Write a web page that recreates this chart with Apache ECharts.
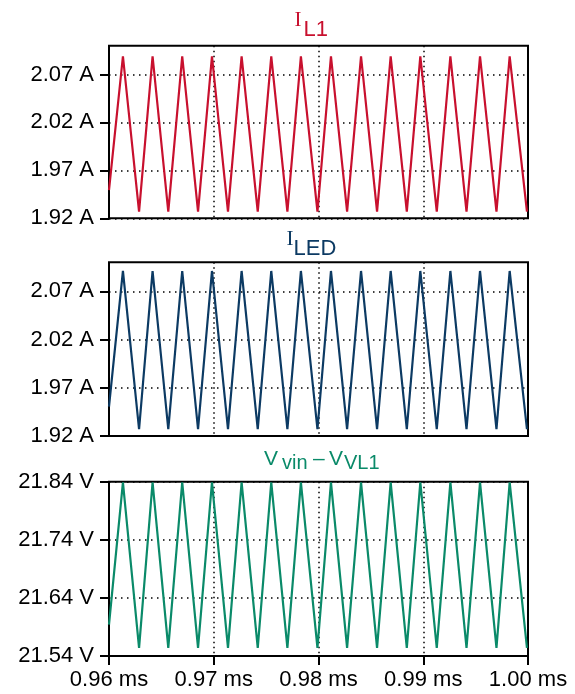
<!DOCTYPE html>
<html>
<head>
<meta charset="utf-8">
<script src="https://cdn.jsdelivr.net/npm/echarts@6/dist/echarts.min.js"></script>
<style>
html,body{margin:0;padding:0;background:#fff;}
#chart{width:575px;height:694px;}
</style>
</head>
<body>
<div id="chart"></div>
<script>
// ---- data ----
const timeMs = [0.96, 0.96133, 0.96287, 0.96416, 0.96566, 0.96699, 0.96850, 0.96983, 0.97136,
  0.97266, 0.97420, 0.97549, 0.97703, 0.97832, 0.97990, 0.98119, 0.98273, 0.98406, 0.98559,
  0.98689, 0.98843, 0.98972, 0.99129, 0.99259, 0.99413, 0.99542, 0.99699, 0.99825, 0.9999];

const iL1 = [1.9495, 2.089, 1.927, 2.089, 1.927, 2.089, 1.927, 2.089, 1.927,
  2.089, 1.927, 2.089, 1.927, 2.089, 1.927, 2.089, 1.927, 2.089, 1.927,
  2.089, 1.927, 2.089, 1.927, 2.089, 1.927, 2.089, 1.927, 2.089, 1.927];

const iLED = [1.9505, 2.091, 1.927, 2.091, 1.927, 2.091, 1.927, 2.091, 1.927,
  2.091, 1.927, 2.091, 1.927, 2.091, 1.927, 2.091, 1.927, 2.091, 1.927,
  2.091, 1.927, 2.091, 1.927, 2.091, 1.927, 2.091, 1.927, 2.091, 1.927];

const vDiff = [21.594, 21.839, 21.554, 21.839, 21.554, 21.839, 21.554, 21.839, 21.554,
  21.839, 21.554, 21.839, 21.554, 21.839, 21.554, 21.839, 21.554, 21.839, 21.554,
  21.839, 21.554, 21.839, 21.554, 21.839, 21.554, 21.839, 21.554, 21.839, 21.554];

const xTicks = [0.96, 0.97, 0.98, 0.99, 1.00];
const currentTicks = [1.92, 1.97, 2.02, 2.07];
const voltageTicks = [21.54, 21.64, 21.74, 21.84];

// ---- styling ----
const RED = '#c8102e', NAVY = '#0c3a63', GREEN = '#0a8a69';
const FONT = "'Liberation Sans', Arial, sans-serif";
const SERIF = "'Liberation Serif', 'Times New Roman', serif";
const LABEL_SIZE = 22;

const grids = [
  {left:109, top:45.7, width:419, height:172.6},
  {left:109, top:262.3, width:419, height:173.7},
  {left:109, top:481.7, width:419, height:174.3}
].map(g => Object.assign(g, {show:true, borderColor:'#000', borderWidth:2, backgroundColor:'transparent', containLabel:false, outerBoundsMode:'none'}));

function xAxis(i, showLabels){
  return {
    type:'value', gridIndex:i, min:0.96, max:1.00, interval:0.01,
    axisLine:{show:false, onZero:false},
    axisTick:{show:showLabels, length:9, inside:false, customValues: xTicks, lineStyle:{color:'#000', width:2}},
    axisLabel:{show:showLabels, margin:13, customValues: xTicks, color:'#000', fontSize:LABEL_SIZE, fontFamily:FONT,
      formatter: v => v.toFixed(2) + ' ms'},
    splitLine:{show:true, lineStyle:{color:'#000', width:1.5, type:[1.5,3.5]}}
  };
}
function yAxis(i, min, max, interval, ticks, unit){
  return {
    type:'value', gridIndex:i, min:min, max:max, interval:interval,
    axisLine:{show:false, onZero:false},
    axisTick:{show:true, length:9, inside:false, customValues: ticks, lineStyle:{color:'#000', width:2}},
    axisLabel:{show:true, margin:15, customValues: ticks, color:'#000', fontSize:LABEL_SIZE, fontFamily:FONT,
      formatter: v => v.toFixed(2) + ' ' + unit},
    splitLine:{show:true, lineStyle:{color:'#000', width:1.5, type:[1.5,4.5]}}
  };
}
function series(i, values, color){
  return {
    type:'line', xAxisIndex:i, yAxisIndex:i, symbol:'none', smooth:false,
    data: timeMs.map((t, k) => [t, values[k]]),
    lineStyle:{color:color, width:2.2}, clip:true
  };
}
function t(text, left, top, color, size, family){
  return {text:text, left:left, top:top, padding:0, itemGap:0,
    textStyle:{color:color, fontSize:size, fontWeight:'normal', fontFamily:family || FONT}};
}

const option = {
  animation:false,
  backgroundColor:'#fff',
  title:[
    t('I', 294.5, 10, RED, 21, SERIF),
    t('L1', 303.5, 18.5, RED, 22),
    t('I', 286.5, 229, NAVY, 21, SERIF),
    t('LED', 293.5, 238, NAVY, 22),
    t('V', 264, 449, GREEN, 21),
    t('vin', 282, 453.5, GREEN, 20),
    t('\u2013', 313, 449, GREEN, 21),
    t('V', 329, 449, GREEN, 21),
    t('VL1', 344, 453.5, GREEN, 20)
  ],
  grid: grids,
  xAxis:[xAxis(0,false), xAxis(1,false), xAxis(2,true)],
  yAxis:[
    yAxis(0, 1.92, 2.10, 0.05, currentTicks, 'A'),
    yAxis(1, 1.92, 2.10, 0.05, currentTicks, 'A'),
    yAxis(2, 21.54, 21.84, 0.1, voltageTicks, 'V')
  ],
  series:[series(0, iL1, RED), series(1, iLED, NAVY), series(2, vDiff, GREEN)]
};

const chart = echarts.init(document.getElementById('chart'), null, {renderer:'canvas'});
chart.setOption(option);
</script>
</body>
</html>
